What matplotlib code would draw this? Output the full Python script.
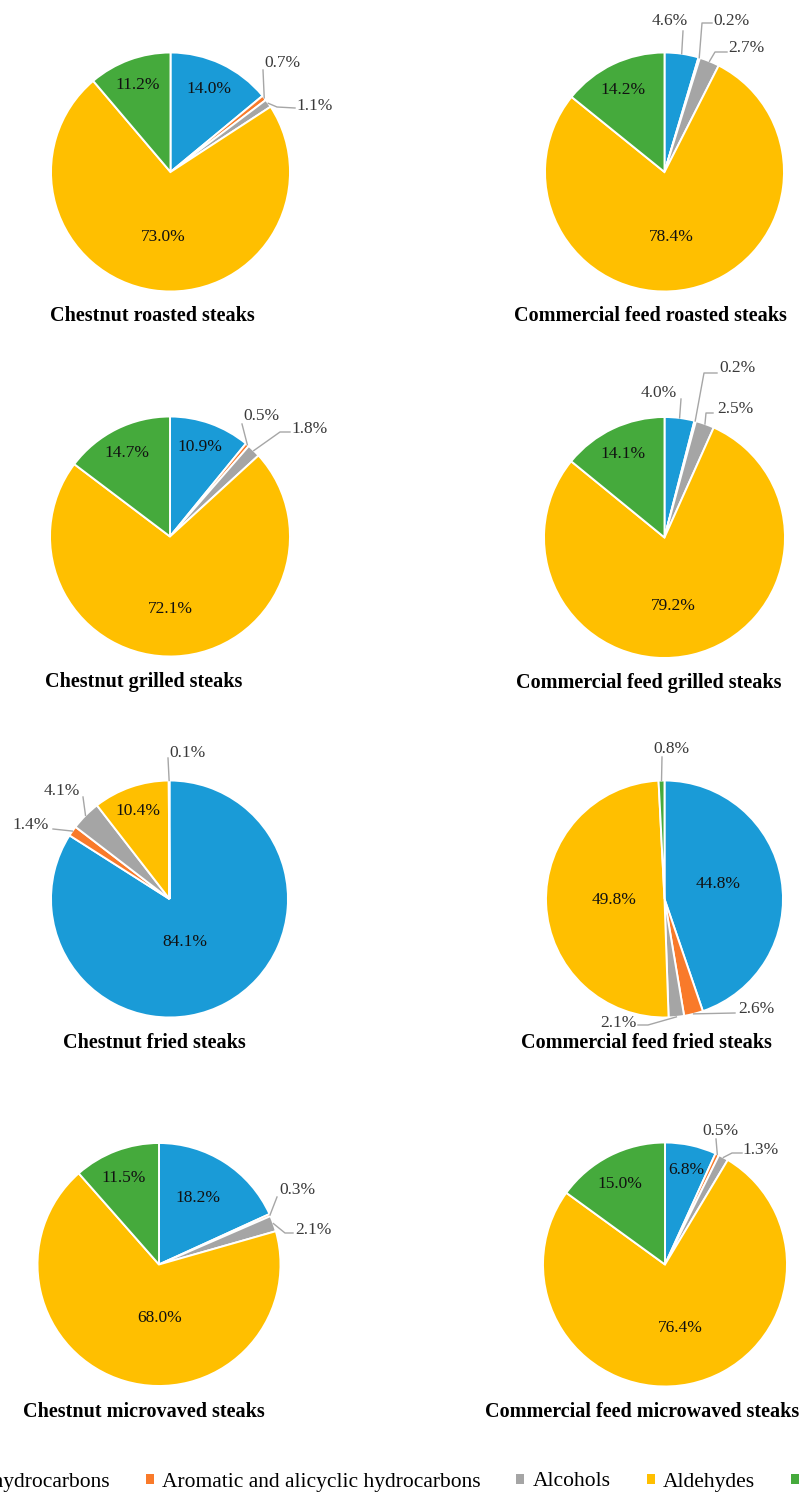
import matplotlib
matplotlib.use('Agg')
import matplotlib.pyplot as plt
from matplotlib.patches import Patch
import numpy as np

W, H = 802, 1492
plt.rcParams['font.family'] = ['Liberation Serif', 'DejaVu Serif']

# ---------------- data ----------------
categories = ['Aliphatic hydrocarbons', 'Aromatic and alicyclic hydrocarbons',
              'Alcohols', 'Aldehydes', 'Ketones']
colors = ['#1A9BD7', '#F97A2A', '#A5A5A5', '#FFBF00', '#45AA3C']

titles = ['Chestnut roasted steaks', 'Commercial feed roasted steaks',
          'Chestnut grilled steaks', 'Commercial feed grilled steaks',
          'Chestnut fried steaks', 'Commercial feed fried steaks',
          'Chestnut microvaved steaks', 'Commercial feed microwaved steaks']

chestnut_roasted = [14.0, 0.7, 1.1, 73.0, 11.2]
commercial_roasted = [4.6, 0.2, 2.7, 78.4, 14.2]
chestnut_grilled = [10.9, 0.5, 1.8, 72.1, 14.7]
commercial_grilled = [4.0, 0.2, 2.5, 79.2, 14.1]
chestnut_fried = [84.1, 1.4, 4.1, 10.4, 0.1]
commercial_fried = [44.8, 2.6, 2.1, 49.8, 0.8]
chestnut_microwaved = [18.2, 0.3, 2.1, 68.0, 11.5]
commercial_microwaved = [6.8, 0.5, 1.3, 76.4, 15.0]

series = [chestnut_roasted, commercial_roasted, chestnut_grilled, commercial_grilled,
          chestnut_fried, commercial_fried, chestnut_microwaved, commercial_microwaved]

# ---------------- layout (pixels) ----------------
# pie centre (x, y from top), radius, title centre
pies = [((170.5, 172), 119.5, (152, 316)),
        ((664.5, 172), 119.5, (650, 316)),
        ((170, 536.5), 120, (144, 682)),
        ((664.5, 537.5), 120.5, (649, 683)),
        ((169.5, 899), 118.5, (154, 1043)),
        ((664.5, 899), 118.5, (646, 1043)),
        ((159, 1264.5), 121.5, (144, 1412)),
        ((665, 1264.5), 122, (642, 1412))]

# label offsets from pie centre (dx right, dy up), optional leader points
label_layout = [
    [((38.5, 83), None), ((111.5, 109), [(92.5, 102)]),
     ((144.5, 66), [(106.5, 65), (124.5, 64)]), ((-7.5, -65), None), ((-32.5, 87), None)],
    [((5.5, 151), [(18.5, 141)]), ((66.5, 151), [(37.5, 149), (47.5, 149)]),
     ((81.5, 124), [(50.5, 120), (62.5, 120)]), ((6.5, -65), None), ((-41.5, 82), None)],
    [((30, 89.5), None), ((91, 120.5), [(72, 112.5)]),
     ((140, 107.5), [(110, 104.5), (120, 104.5)]), ((0, -72.5), None), ((-43, 83.5), None)],
    [((-5.5, 144.5), [(16.5, 138.5)]), ((72.5, 169.5), [(39.5, 164.5), (52.5, 164.5)]),
     ((70.5, 128.5), [(41.5, 124.5), (48.5, 124.5)]), ((8.5, -68.5), None), ((-41.5, 83.5), None)],
    [((15.5, -43), None), ((-138.5, 74), [(-116.5, 70)]),
     ((-107.5, 108), [(-86.5, 102)]), ((-31.5, 88), None), ((18.5, 146), [(-1.5, 141)])],
    [((53.5, 15), None), ((91.5, -110), [(70.5, -114)]),
     ((-46.5, -124), [(-16.5, -126), (-26.5, -126)]), ((-50.5, -1), None), ((6.5, 150), [(-2.5, 142)])],
    [((39, 66.5), None), ((138, 74.5), [(118, 67.5)]),
     ((154, 34.5), [(126, 31.5), (134, 31.5)]), ((1, -53.5), None), ((-35, 86.5), None)],
    [((21, 94.5), None), ((55, 133.5), [(51, 125.5)]),
     ((96, 114.5), [(67, 111.5), (77, 111.5)]), ((15, -63.5), None), ((-45, 80.5), None)],
]

fig = plt.figure(figsize=(W / 100, H / 100), dpi=100)
ax = fig.add_axes([0, 0, 1, 1])

for vals, (cen, r, tpos), lays, title in zip(series, pies, label_layout, titles):
    cx, cy = cen[0], H - cen[1]
    wedges, _ = ax.pie(vals, colors=colors, startangle=90, counterclock=False,
                       center=(cx, cy), radius=r,
                       wedgeprops=dict(edgecolor='white', linewidth=1.4))
    for v, w, ((dx, dy), leader) in zip(vals, wedges, lays):
        txt = f'{v:.1f}%'
        if leader is None:
            ax.text(cx + dx, cy + dy, txt, ha='center', va='center',
                    fontsize=12.5, color='#111111')
        else:
            mid = np.deg2rad((w.theta1 + w.theta2) / 2)
            px, py = cx + r * np.cos(mid), cy + r * np.sin(mid)
            xs = [px] + [cx + p[0] for p in leader]
            ys = [py] + [cy + p[1] for p in leader]
            ax.plot(xs, ys, color='#A6A6A6', lw=1.0, clip_on=False, zorder=3)
            ax.text(cx + dx, cy + dy, txt, ha='center', va='center',
                    fontsize=12.5, color='#3A3A3A')
    ax.text(tpos[0], H - tpos[1], title, ha='center', va='center',
            fontsize=14.5, fontweight='bold', color='black')

ax.set_xlim(0, W)
ax.set_ylim(0, H)
ax.set_aspect('equal')
ax.axis('off')

handles = [Patch(facecolor=c, edgecolor='none') for c in colors]
fig.legend(handles, categories, loc='center left', bbox_to_anchor=(-109 / W, 1 - 1482 / H),
           ncol=5, frameon=False, fontsize=15.5, handlelength=0.37, handleheight=0.37,
           handletextpad=0.37, columnspacing=1.68, borderaxespad=0, borderpad=0)

fig.savefig('out.png', dpi=100)
